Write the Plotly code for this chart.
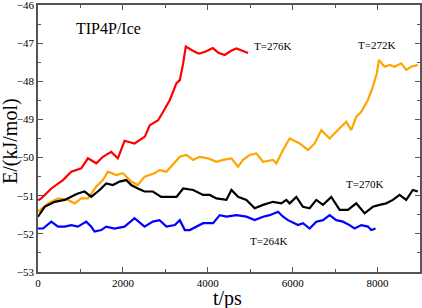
import plotly.graph_objects as go

# T = 276 K (red)
t_276 = [0, 78, 314, 588, 784, 1020, 1176, 1373, 1529, 1725, 1882, 2039, 2275, 2518, 2635, 2831,
         2949, 3106, 3263, 3341, 3420, 3482, 3616, 3773, 3812, 3950, 4118, 4250, 4400, 4550, 4675, 4800, 4949]
e_276 = [-51.12, -51.07, -50.81, -50.59, -50.37, -50.28, -50.02, -50.15, -49.98, -49.85, -50.02, -49.56, -49.63, -49.45,
         -49.15, -49.02, -48.80, -48.49, -48.05, -47.97, -47.53, -47.09, -47.18, -47.27, -47.27, -47.22, -47.13, -47.25,
         -47.31, -47.20, -47.14, -47.20, -47.26]

# T = 272 K (orange)
t_272 = [0, 235, 470, 706, 863, 1020, 1176, 1373, 1529, 1647, 1843, 2000, 2196, 2353, 2510, 2745, 2871, 3027,
         3341, 3498, 3655, 3812, 4008, 4204, 4361, 4557, 4714, 4831, 4988, 5145, 5302, 5537, 5616, 5773, 5929,
         6165, 6361, 6518, 6675, 6871, 7106, 7263, 7380, 7498, 7616, 7773, 7890, 7984, 8031, 8165, 8282, 8400,
         8557, 8675, 8792, 8949]
e_272 = [-51.42, -51.20, -51.07, -51.11, -51.20, -51.07, -51.07, -50.76, -50.59, -50.37, -50.46, -50.41, -50.63,
         -50.72, -50.50, -50.41, -50.33, -50.37, -49.98, -49.93, -50.06, -49.98, -50.02, -50.11, -50.06, -50.02,
         -50.24, -50.06, -49.93, -49.89, -50.11, -50.06, -50.15, -49.80, -49.50, -49.63, -49.80, -49.63, -49.28,
         -49.50, -49.23, -49.06, -49.28, -48.93, -48.80, -48.49, -48.14, -47.79, -47.44, -47.62, -47.57, -47.62,
         -47.53, -47.70, -47.62, -47.57]

# T = 270 K (black)
t_270 = [0, 157, 392, 627, 863, 941, 1098, 1255, 1451, 1608, 1765, 1922, 2078, 2196, 2353, 2510, 2706, 2902,
         3027, 3263, 3420, 3655, 3890, 4047, 4204, 4439, 4557, 4714, 4910, 5106, 5302, 5537, 5733, 5851, 5929,
         6086, 6243, 6400, 6557, 6714, 6910, 7106, 7302, 7498, 7694, 7890, 8047, 8204, 8361, 8518, 8675, 8831, 8949]
e_270 = [-51.55, -51.29, -51.16, -51.11, -50.98, -50.94, -50.89, -51.03, -50.85, -50.68, -50.72, -50.63, -50.59,
         -50.72, -50.81, -50.89, -50.89, -51.03, -51.03, -51.03, -50.81, -50.85, -50.98, -50.98, -51.07, -51.11,
         -50.85, -51.03, -51.11, -51.33, -51.24, -51.16, -51.20, -51.11, -51.20, -51.03, -51.29, -51.33, -51.11,
         -51.24, -51.03, -51.37, -51.37, -51.20, -51.46, -51.29, -51.24, -51.20, -51.11, -50.98, -51.11, -50.85, -50.89]

# T = 264 K (blue)
t_264 = [0, 118, 314, 470, 627, 784, 941, 1137, 1255, 1333, 1490, 1608, 1804, 2039, 2275, 2510, 2706, 2863,
         3027, 3224, 3341, 3459, 3576, 3733, 3890, 4125, 4282, 4439, 4675, 4910, 5106, 5302, 5459, 5655, 5773,
         5890, 6125, 6243, 6400, 6557, 6714, 6871, 7027, 7184, 7341, 7459, 7616, 7773, 7851, 7953]
e_264 = [-51.86, -51.86, -51.68, -51.81, -51.81, -51.77, -51.81, -51.68, -51.81, -51.94, -51.90, -51.81, -51.86,
         -51.81, -51.59, -51.81, -51.68, -51.64, -51.81, -51.77, -51.64, -51.90, -51.90, -51.81, -51.72, -51.72,
         -51.51, -51.55, -51.51, -51.55, -51.64, -51.55, -51.51, -51.42, -51.55, -51.64, -51.77, -51.72, -51.86,
         -51.68, -51.64, -51.51, -51.64, -51.68, -51.77, -51.86, -51.77, -51.81, -51.90, -51.86]

series = [
    (t_276, e_276, "red", "T=276K"),
    (t_272, e_272, "orange", "T=272K"),
    (t_270, e_270, "black", "T=270K"),
    (t_264, e_264, "blue", "T=264K"),
]

# label positions (data coordinates)
label_t = [5530, 7969, 7694, 5420]
label_e = [-47.07, -47.05, -50.70, -52.20]
label_text = ["T=276K", "T=272K", "T=270K", "T=264K"]

FONT = "Liberation Serif"
AX = "#555555"

fig = go.Figure()
for t, e, c, name in series:
    fig.add_trace(go.Scatter(x=t, y=e, mode="lines", line=dict(color=c, width=2.2), name=name,
                             showlegend=False))

for x, y, s in zip(label_t, label_e, label_text):
    fig.add_annotation(x=x, y=y, text=s, showarrow=False, font=dict(family=FONT, size=11, color="black"))

fig.add_annotation(x=1655, y=-46.61, text="TIP4P/Ice", showarrow=False,
                   font=dict(family=FONT, size=16, color="black"))

# axis titles
fig.add_annotation(xref="paper", yref="paper", x=0.497, y=-0.05, yanchor="top", text="t/ps", showarrow=False,
                   font=dict(family=FONT, size=20, color="black"))
fig.add_annotation(xref="paper", yref="paper", x=-0.074, xanchor="center", y=0.49, text="E/(kJ/mol)",
                   textangle=-90, showarrow=False, font=dict(family=FONT, size=20, color="black"))

fig.update_xaxes(range=[0, 9000], dtick=2000, tick0=0, ticks="inside", ticklen=5, tickcolor=AX, tickwidth=1.2,
                 minor=dict(dtick=1000, ticks="inside", ticklen=3, tickcolor=AX, tickwidth=1.2),
                 showline=True, linecolor=AX, linewidth=1.6, mirror="allticks", showgrid=False, zeroline=False,
                 tickfont=dict(family=FONT, size=11, color="black"), automargin=False,
                 ticklabeloverflow="allow")
fig.update_yaxes(range=[-53, -46], dtick=1, tick0=-53, ticks="inside", ticklen=5, tickcolor=AX, tickwidth=1.2,
                 minor=dict(dtick=0.5, ticks="inside", ticklen=3, tickcolor=AX, tickwidth=1.2),
                 showline=True, linecolor=AX, linewidth=1.6, mirror="allticks", showgrid=False, zeroline=False,
                 tickfont=dict(family=FONT, size=11, color="black"), automargin=False,
                 ticklabeloverflow="allow")

fig.update_layout(width=422, height=308, margin=dict(l=38, r=2, t=5, b=36),
                  plot_bgcolor="white", paper_bgcolor="white")

fig.write_html("out.html", config={"displayModeBar": False},
               post_script="document.body.style.margin='0px';")
